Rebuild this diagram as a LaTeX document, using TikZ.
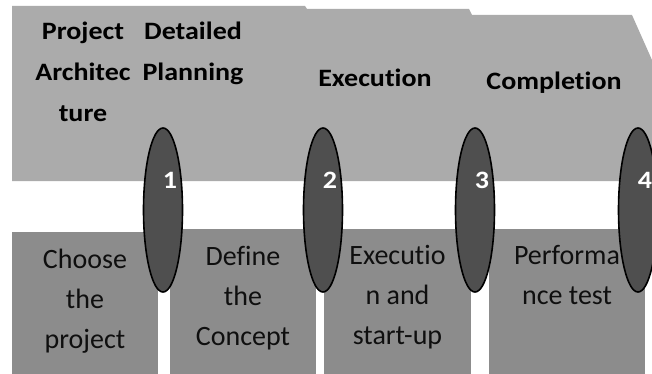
\documentclass[tikz,border=0pt]{standalone}
\usepackage{fontspec}
\setmainfont{Carlito}[Ligatures=NoCommon]
\newfontfamily\lblfont{Carlito}[FakeStretch=1.12,Ligatures=NoCommon]
\usetikzlibrary{shapes.geometric}
\definecolor{topgray}{RGB}{171,171,171}
\definecolor{boxgray}{RGB}{140,140,140}
\definecolor{ovalgray}{RGB}{79,79,79}
\definecolor{txtdark}{RGB}{15,15,15}
\tikzset{
  phase/.style={font=\lblfont\bfseries\fontsize{25}{41}\selectfont, align=center, inner sep=0pt, anchor=base, text=black},
  stepbox/.style={fill=boxgray, draw=none, inner sep=0pt, anchor=north west},
  steptext/.style={font=\fontsize{28}{40}\selectfont, align=center, inner sep=0pt, anchor=base, text=txtdark},
  oval/.style={ellipse, fill=ovalgray, draw=black, line width=1.6pt, minimum width=39pt, minimum height=164pt, inner sep=0pt},
  num/.style={font=\lblfont\bfseries\fontsize{25}{30}\selectfont, text=white, inner sep=0pt}
}
\begin{document}
\begin{tikzpicture}[x=1pt,y=-1pt]
\useasboundingbox (0,0) rectangle (652,374);
\clip (0,0) rectangle (652,374);
% top band
\fill[topgray] (12,6) -- (305,6) -- (307,9) -- (469,9) -- (472,15) -- (632,15) -- (652,60) -- (652,181) -- (12,181) -- cycle;
% phase labels (base = baseline of last line)
\node[phase] (p1) at (83,122) {Project\\Architec\\ture};
\node[phase] (p2) at (193,81) {Detailed\\Planning};
\node[phase] (p3) at (375,87) {Execution};
\node[phase] (p4) at (554,90) {Completion};
% bottom boxes
\node[stepbox, minimum width=146pt, minimum height=142pt] (b1) at (12,232) {};
\node[stepbox, minimum width=146pt, minimum height=145pt] (b2) at (170,229) {};
\node[stepbox, minimum width=147pt, minimum height=145pt] (b3) at (324,229) {};
\node[stepbox, minimum width=156pt, minimum height=145pt] (b4) at (489,229) {};
\node[steptext] (t1) at (85,348) {Choose\\the\\project};
\node[steptext] (t2) at (243,345) {Define\\the\\Concept};
\node[steptext] (t3) at (397.5,344) {Executio\\n and\\start-up};
\node[steptext] (t4) at (567,304) {Performa\\nce test};
% ovals
\node[oval] (e1) at (163,210) {};
\node[oval] (e2) at (323,210) {};
\node[oval] (e3) at (475,210) {};
\node[oval] (e4) at (638,210) {};
\node[num] (n1) at ([shift={(7,-30)}]e1.center) {1};
\node[num] (n2) at ([shift={(7,-30)}]e2.center) {2};
\node[num] (n3) at ([shift={(7,-30)}]e3.center) {3};
\node[num] (n4) at ([shift={(7,-30)}]e4.center) {4};
\end{tikzpicture}
\end{document}
